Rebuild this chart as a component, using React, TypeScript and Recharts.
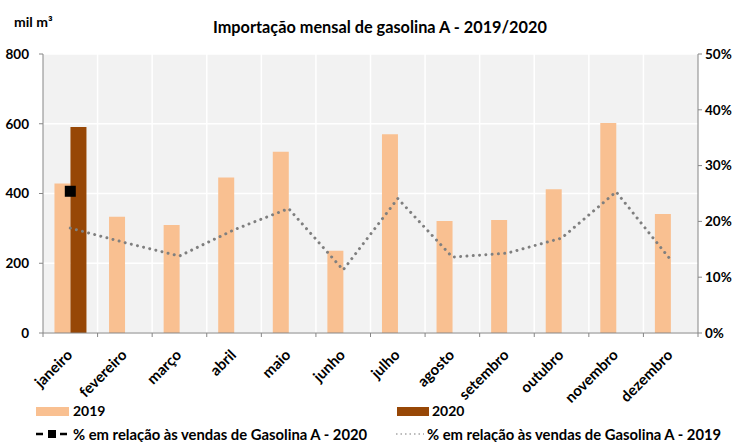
import React from "react";
import {
  ComposedChart,
  Bar,
  Line,
  XAxis,
  YAxis,
  CartesianGrid,
  Legend,
} from "recharts";

const months = [
  "janeiro",
  "fevereiro",
  "março",
  "abril",
  "maio",
  "junho",
  "julho",
  "agosto",
  "setembro",
  "outubro",
  "novembro",
  "dezembro",
];
const imp2019 = [429, 333, 310, 446, 520, 236, 570, 321, 324, 412, 602, 341];
const imp2020 = [591, null, null, null, null, null, null, null, null, null, null, null];
const pct2019 = [0.188, 0.162, 0.138, 0.185, 0.223, 0.113, 0.241, 0.136, 0.143, 0.17, 0.253, 0.131];
const pct2020 = [0.254, null, null, null, null, null, null, null, null, null, null, null];
const leftTicks = [0, 200, 400, 600, 800];
const rightTicks = [0, 0.1, 0.2, 0.3, 0.4, 0.5];

const data = months.map((m, i) => ({
  name: m,
  v2019: imp2019[i],
  v2020: imp2020[i],
  p2019: pct2019[i],
  p2020: pct2020[i],
}));

const W = 742;
const H = 442;
const LEFT_W = 43;
const RIGHT_W = 44;
const BAND = (W - LEFT_W - RIGHT_W) / months.length;
const FONT = "Lato, 'Open Sans', sans-serif";
const AXIS = "#868686";

function MonthTick(props: any) {
  const { x, y, payload, index } = props;
  const left = x - BAND / 2;
  const tx = x + 3;
  const ty = y + 15;
  return (
    <g>
      <line x1={left} y1={y - 8} x2={left} y2={y - 4} stroke={AXIS} />
      {index === months.length - 1 && (
        <line x1={x + BAND / 2} y1={y - 8} x2={x + BAND / 2} y2={y - 4} stroke={AXIS} />
      )}
      <text
        x={tx}
        y={ty}
        transform={`rotate(-45, ${tx}, ${ty})`}
        textAnchor="end"
        fontFamily={FONT}
        fontWeight={700}
        fontSize={15}
        fill="#000"
      >
        {payload.value}
      </text>
    </g>
  );
}

function SquareDot(props: any) {
  const { cx, cy } = props;
  if (cx == null || cy == null) return <g key={props.index} />;
  return <rect key={props.index} x={cx - 5.5} y={cy - 5.5} width={11} height={11} fill="#000" />;
}

function ChartLegend() {
  const txt: React.CSSProperties = {
    position: "absolute",
    fontFamily: FONT,
    fontWeight: 700,
    fontSize: 14,
    color: "#000",
    whiteSpace: "nowrap",
    lineHeight: "14px",
  };
  const row2: React.CSSProperties = { ...txt, fontSize: 14.8, lineHeight: "12px", top: 35 };
  return (
    <div style={{ position: "relative", width: W, height: 49 }}>
      <div style={{ position: "absolute", left: 36, top: 14, width: 33, height: 9, background: "#F9C091" }} />
      <div style={{ ...txt, left: 73, top: 11 }}>2019</div>
      <div style={{ position: "absolute", left: 397, top: 14, width: 32, height: 9, background: "#974706" }} />
      <div style={{ ...txt, left: 432, top: 11 }}>2020</div>
      <svg style={{ position: "absolute", left: 34, top: 34 }} width={36} height={14}>
        <line x1={2} y1={7} x2={9} y2={7} stroke="#000" strokeWidth={2.5} />
        <rect x={14} y={3} width={8} height={8} fill="#000" />
        <line x1={26} y1={7} x2={33} y2={7} stroke="#000" strokeWidth={2.5} />
      </svg>
      <div style={{ ...row2, left: 73 }}>% em relação às vendas de Gasolina A - 2020</div>
      <svg style={{ position: "absolute", left: 394, top: 34 }} width={32} height={14}>
        <line
          x1={2}
          y1={7}
          x2={30}
          y2={7}
          stroke="#A6A6A6"
          strokeWidth={1.5}
          strokeDasharray="1.5 3"
        />
      </svg>
      <div style={{ ...row2, left: 427 }}>% em relação às vendas de Gasolina A - 2019</div>
    </div>
  );
}

export default function App() {
  return (
    <div style={{ position: "absolute", left: 0, top: 0, width: W, height: H, background: "#fff" }}>
      <div
        style={{
          position: "absolute",
          left: 14,
          top: 14,
          fontFamily: FONT,
          fontWeight: 700,
          fontSize: 14,
          lineHeight: "16px",
        }}
      >
        mil m³
      </div>
      <div
        style={{
          position: "absolute",
          left: 213,
          top: 17,
          fontFamily: FONT,
          fontWeight: 700,
          fontSize: 16.3,
          lineHeight: "20px",
          whiteSpace: "nowrap",
        }}
      >
        Importação mensal de gasolina A - 2019/2020
      </div>
      <ComposedChart
        width={W}
        height={H}
        data={data}
        margin={{ top: 54, right: 0, left: 0, bottom: 0 }}
        barGap={0}
        barCategoryGap="21%"
      >
        <CartesianGrid
          fill="#F2F2F2"
          stroke="#FFFFFF"
          strokeWidth={1.5}
          yAxisId="left"
          verticalCoordinatesGenerator={({ offset }: any) =>
            months.slice(1).map((_, i) => offset.left + (i + 1) * (offset.width / months.length))
          }
        />
        <XAxis
          dataKey="name"
          height={60}
          interval={0}
          tickLine={false}
          axisLine={{ stroke: AXIS }}
          tick={<MonthTick />}
        />
        <YAxis
          yAxisId="left"
          width={LEFT_W}
          domain={[0, 800]}
          ticks={leftTicks}
          axisLine={{ stroke: AXIS }}
          tickLine={{ stroke: AXIS }}
          tickSize={4}
          tickMargin={10}
          tick={{ fontFamily: FONT, fontWeight: 700, fontSize: 13.5, fill: "#000" }}
        />
        <YAxis
          yAxisId="right"
          orientation="right"
          width={RIGHT_W}
          domain={[0, 0.5]}
          ticks={rightTicks}
          tickFormatter={(v: number) => `${Math.round(v * 100)}%`}
          axisLine={{ stroke: AXIS }}
          tickLine={{ stroke: AXIS }}
          tickSize={4}
          tickMargin={3}
          tick={{ fontFamily: FONT, fontWeight: 700, fontSize: 13.5, fill: "#000" }}
        />
        <Bar yAxisId="left" dataKey="v2019" fill="#F9C091" isAnimationActive={false} />
        <Bar yAxisId="left" dataKey="v2020" fill="#974706" isAnimationActive={false} />
        <Line
          yAxisId="right"
          type="linear"
          dataKey="p2019"
          stroke="#7F7F7F"
          strokeWidth={3}
          strokeDasharray="0.01 6.3"
          strokeLinecap="round"
          dot={false}
          activeDot={false}
          isAnimationActive={false}
        />
        <Line
          yAxisId="right"
          type="linear"
          dataKey="p2020"
          stroke="#000"
          strokeWidth={2.5}
          strokeDasharray="6 3"
          dot={<SquareDot />}
          activeDot={false}
          isAnimationActive={false}
        />
        <Legend verticalAlign="bottom" align="left" content={() => <ChartLegend />} wrapperStyle={{ height: 49 }} />
      </ComposedChart>
    </div>
  );
}
